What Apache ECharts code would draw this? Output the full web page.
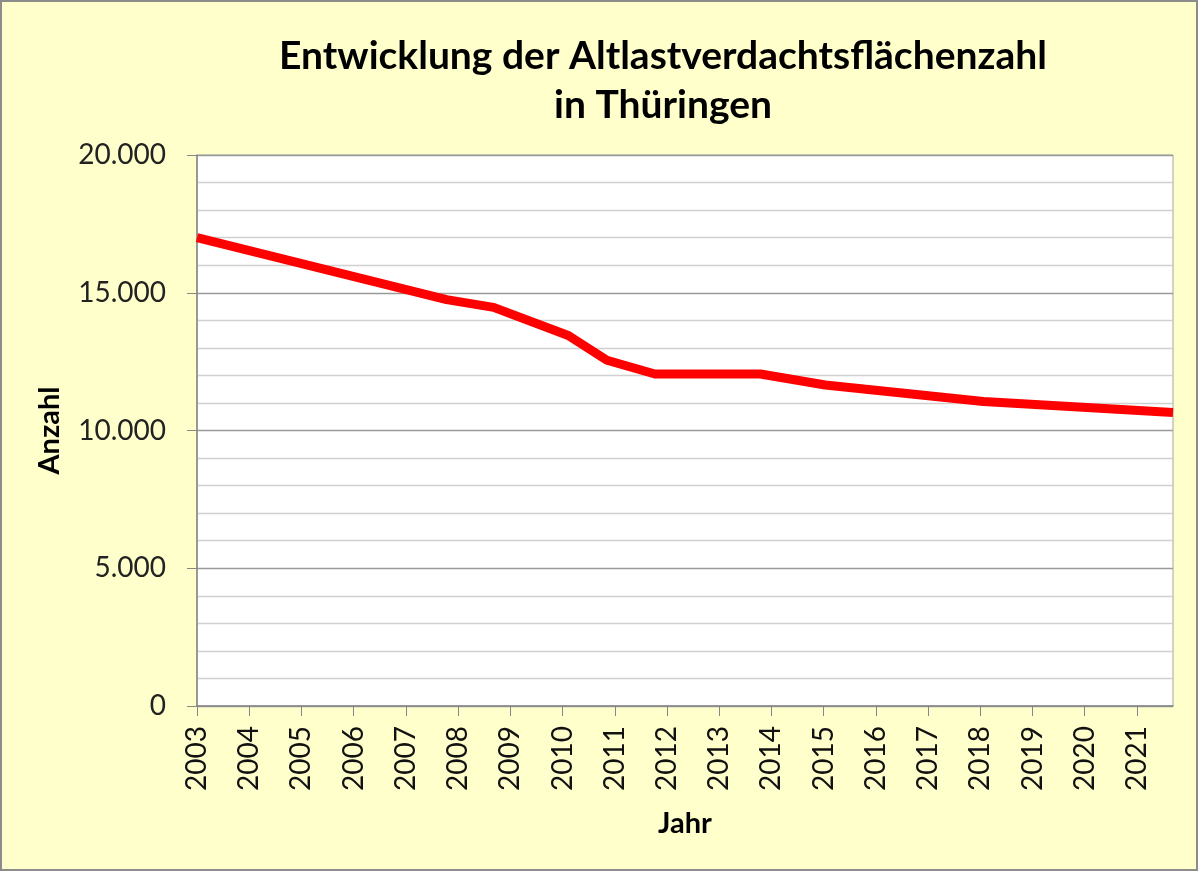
<!DOCTYPE html>
<html>
<head>
<meta charset="utf-8">
<title>Altlastverdachtsflächen Thüringen</title>
<script src="https://cdn.jsdelivr.net/npm/echarts@6/dist/echarts.min.js"></script>
<style>
	html, body { margin: 0; padding: 0; background: #ffffcc; }
	#chart { width: 1198px; height: 871px; }
</style>
</head>
<body>
<div id="chart"></div>
<script>
// Zeitpunkte (Jahr, als Dezimalzahl) und Anzahl der Verdachtsflächen
var years = [2003.0, 2007.78, 2008.68, 2010.11, 2010.85, 2011.77, 2013.79, 2015.03, 2018.06, 2021.69];
var counts = [17000, 14750, 14470, 13450, 12550, 12050, 12050, 11650, 11050, 10650];

// Beschriftung der x-Achse
var yearTicks = [2003, 2004, 2005, 2006, 2007, 2008, 2009, 2010, 2011, 2012,
	2013, 2014, 2015, 2016, 2017, 2018, 2019, 2020, 2021];

var titleText = 'Entwicklung der Altlastverdachtsflächenzahl\nin Thüringen';

var font = 'Lato, "Open Sans", sans-serif';

function fmtNumber(v) {
	return String(v).replace(/\B(?=(\d{3})+(?!\d))/g, '.');
}

var chart = echarts.init(document.getElementById('chart'));

var option = {
	backgroundColor: '#ffffcc',
	animation: false,
	graphic: [{
		type: 'rect',
		z: -10,
		shape: { x: 1, y: 1, width: 1196, height: 869 },
		style: { fill: '#ffffcc', stroke: '#8c8c8c', lineWidth: 2 }
	}],
	title: {
		text: titleText,
		left: 658,
		top: 27,
		textAlign: 'center',
		textStyle: {
			fontFamily: font,
			fontWeight: 'bold',
			fontSize: 39,
			lineHeight: 49,
			color: '#000'
		}
	},
	grid: {
		left: 197,
		right: 25,
		top: 155,
		bottom: 165,
		show: true,
		backgroundColor: '#ffffff',
		borderColor: '#a6a6a6',
		borderWidth: 1
	},
	xAxis: {
		type: 'value',
		min: 2003,
		max: years[years.length - 1],
		interval: 1,
		name: 'Jahr',
		nameLocation: 'middle',
		nameGap: 103,
		nameTextStyle: {
			fontFamily: font,
			fontWeight: 'bold',
			fontSize: 29,
			color: '#000'
		},
		axisLine: { lineStyle: { color: '#868686', width: 1.5 } },
		axisTick: {
			show: true,
			length: 10,
			customValues: yearTicks,
			lineStyle: { color: '#868686' }
		},
		axisLabel: {
			rotate: 90,
			margin: 20,
			customValues: yearTicks,
			fontFamily: font,
			fontSize: 28,
			color: '#111',
			formatter: function(v) { return String(v); }
		},
		splitLine: { show: false }
	},
	yAxis: {
		type: 'value',
		min: 0,
		max: 20000,
		interval: 5000,
		name: 'Anzahl',
		nameLocation: 'middle',
		nameRotate: 90,
		nameGap: 133,
		nameTextStyle: {
			fontFamily: font,
			fontWeight: 'bold',
			fontSize: 29,
			color: '#000'
		},
		axisLine: { show: true, lineStyle: { color: '#868686', width: 1.5 } },
		axisTick: { show: true, length: 10, lineStyle: { color: '#868686' } },
		axisLabel: {
			margin: 31,
			fontFamily: font,
			fontSize: 28,
			color: '#222',
			formatter: fmtNumber
		},
		splitLine: { show: true, lineStyle: { color: '#9a9a9a', width: 1.3 } },
		minorTick: { show: false, splitNumber: 5 },
		minorSplitLine: { show: true, lineStyle: { color: '#d0d0d0', width: 1.3 } }
	},
	series: [{
		type: 'line',
		name: 'Anzahl',
		data: years.map(function(y, i) { return [y, counts[i]]; }),
		symbol: 'none',
		lineStyle: { color: '#ff0000', width: 9, join: 'round' },
		itemStyle: { color: '#ff0000' }
	}]
};

chart.setOption(option);
window.addEventListener('resize', function() {
	chart.resize();
});
</script>
</body>
</html>
